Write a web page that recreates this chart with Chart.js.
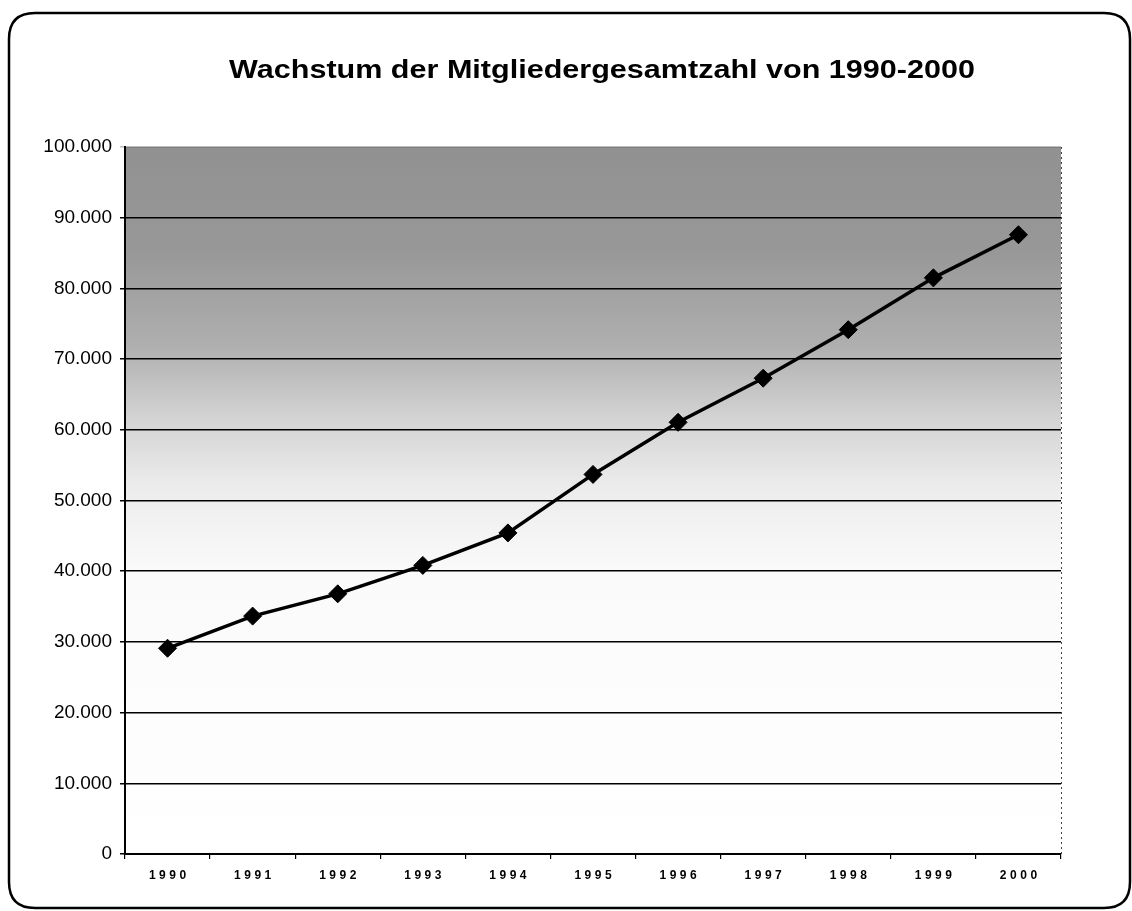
<!DOCTYPE html>
<html>
<head>
<meta charset="utf-8">
<script src="https://cdn.jsdelivr.net/npm/chart.js@4/dist/chart.umd.min.js"></script>
<style>
html,body{margin:0;padding:0;background:#fff;}
canvas{display:block;}
</style>
</head>
<body>
<canvas id="c" width="1132" height="911"></canvas>
<script>
const titleText = 'Wachstum der Mitgliedergesamtzahl von 1990-2000';
const years = ['1990','1991','1992','1993','1994','1995','1996','1997','1998','1999','2000'];
const members = [29100, 33650, 36800, 40820, 45420, 53690, 61060, 67300, 74160, 81490, 87590];
const yMin = 0, yMax = 100000, yStep = 10000;

function fmt(v){
  return String(Math.round(v)).replace(/\B(?=(\d{3})+(?!\d))/g, '.');
}

const framePlugin = {
  id: 'frame',
  beforeDraw(chart){
    const ctx = chart.ctx;
    ctx.save();
    ctx.fillStyle = '#fff';
    ctx.fillRect(0,0,chart.width,chart.height);
    // rounded frame
    ctx.strokeStyle = '#000';
    ctx.lineWidth = 2.5;
    const x=9,y=13,w=1121,h=895,r=26;
    ctx.beginPath();
    ctx.moveTo(x+r,y);
    ctx.lineTo(x+w-r,y);
    ctx.quadraticCurveTo(x+w,y,x+w,y+r);
    ctx.lineTo(x+w,y+h-r);
    ctx.quadraticCurveTo(x+w,y+h,x+w-r,y+h);
    ctx.lineTo(x+r,y+h);
    ctx.quadraticCurveTo(x,y+h,x,y+h-r);
    ctx.lineTo(x,y+r);
    ctx.quadraticCurveTo(x,y,x+r,y);
    ctx.stroke();
    // plot background gradient
    const a = chart.chartArea;
    const g = ctx.createLinearGradient(0,a.top,0,a.bottom);
    g.addColorStop(0,'rgb(145,145,145)');
    g.addColorStop(0.15,'rgb(152,152,152)');
    g.addColorStop(0.28,'rgb(175,175,175)');
    g.addColorStop(0.38,'rgb(210,210,210)');
    g.addColorStop(0.48,'rgb(236,236,236)');
    g.addColorStop(0.6,'rgb(250,250,250)');
    g.addColorStop(1,'rgb(255,255,255)');
    ctx.fillStyle = g;
    ctx.fillRect(a.left,a.top,a.right-a.left,a.bottom-a.top);
    // title (horizontally stretched like the reference)
    ctx.fillStyle = '#000';
    ctx.font = 'bold 26px Arial, "Liberation Sans", sans-serif';
    ctx.textAlign = 'center';
    ctx.textBaseline = 'middle';
    ctx.translate(602, 71);
    ctx.scale(1.175, 1);
    ctx.fillText(titleText, 0, 0);
    ctx.restore();
  },
  afterDraw(chart){
    const ctx = chart.ctx;
    const a = chart.chartArea;
    const xs = chart.scales.x;
    ctx.save();
    // dotted right border
    ctx.strokeStyle = '#444';
    ctx.lineWidth = 1;
    ctx.setLineDash([2,3]);
    ctx.beginPath();
    ctx.moveTo(a.right+0.5,a.top);
    ctx.lineTo(a.right+0.5,a.bottom);
    ctx.stroke();
    ctx.setLineDash([]);
    // x labels with letter spacing
    ctx.fillStyle = '#000';
    ctx.font = 'bold 12px Arial, "Liberation Sans", sans-serif';
    ctx.textBaseline = 'middle';
    ctx.textAlign = 'left';
    const sp = 3.5;
    years.forEach((lab,i)=>{
      const cx = xs.getPixelForValue(i);
      let w = 0;
      for (const ch of lab) w += ctx.measureText(ch).width;
      w += sp*(lab.length-1);
      let px = cx - w/2;
      for (const ch of lab){
        ctx.fillText(ch, px, 876);
        px += ctx.measureText(ch).width + sp;
      }
    });
    ctx.restore();
  }
};

new Chart(document.getElementById('c'), {
  type: 'line',
  data: {
    labels: years,
    datasets: [{
      data: members,
      borderColor: '#000',
      backgroundColor: '#000',
      borderWidth: 3.5,
      pointStyle: 'rectRot',
      pointRadius: 9,
      pointHoverRadius: 9,
      pointBackgroundColor: '#000',
      pointBorderColor: '#000',
      pointBorderWidth: 1,
      tension: 0,
      fill: false
    }]
  },
  options: {
    responsive: false,
    animation: false,
    events: [],
    layout: { padding: { top: 147, left: 0, right: 71, bottom: 27 } },
    plugins: { legend: { display: false }, title: { display: false }, tooltip: { enabled: false } },
    scales: {
      x: {
        type: 'category',
        offset: true,
        afterFit(s){ s.height = 30; },
        grid: { display: true, offset: true, drawOnChartArea: false, drawTicks: true, tickLength: 5, color: '#000', lineWidth: 1.2 },
        border: { display: true, color: '#000', width: 2 },
        ticks: { display: false }
      },
      y: {
        min: yMin, max: yMax,
        afterFit(s){ s.width = 125; },
        ticks: {
          stepSize: yStep,
          color: '#000',
          padding: 8,
          font: { family: 'Arial, "Liberation Sans", sans-serif', size: 19 },
          callback: (v)=>fmt(v)
        },
        grid: {
          color: (c)=> (c.tick && c.tick.value === yMax) ? 'rgba(0,0,0,0.25)' : '#000',
          lineWidth: 1.5,
          tickLength: 5,
          drawTicks: true
        },
        border: { display: true, color: '#000', width: 2 }
      }
    }
  },
  plugins: [framePlugin]
});
</script>
</body>
</html>
